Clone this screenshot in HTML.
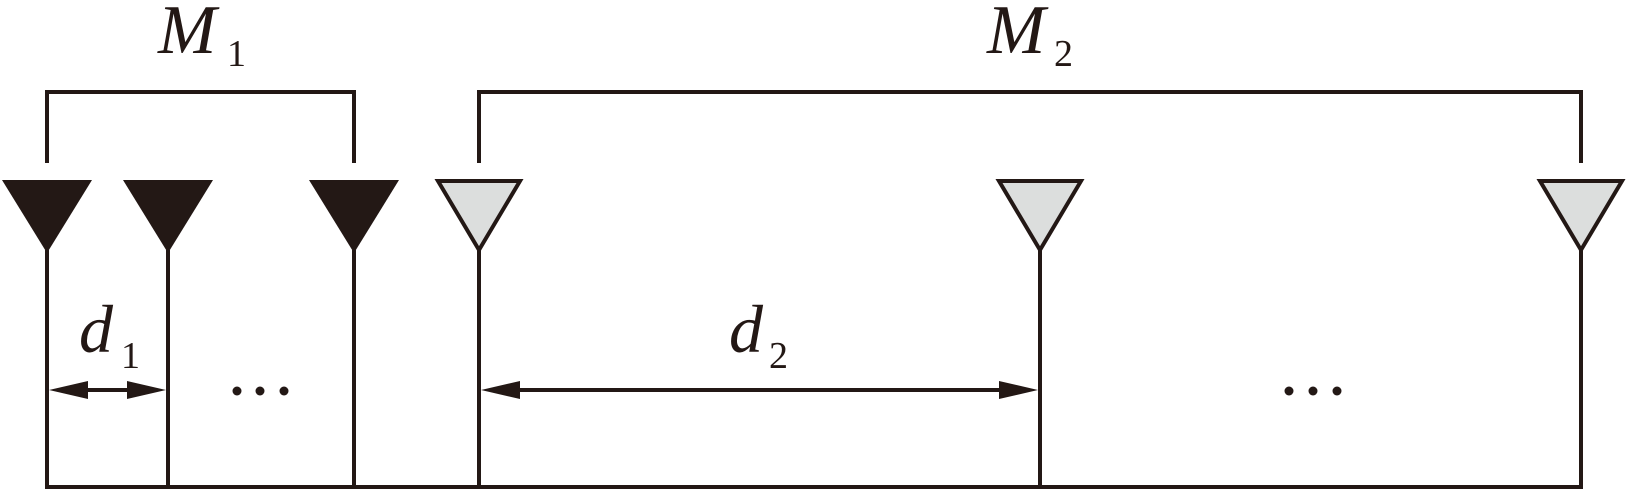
<!DOCTYPE html>
<html><head><style>html,body{margin:0;padding:0;background:#fff}svg{display:block}</style></head><body>
<svg width="1633" height="492" viewBox="0 0 1633 492" xmlns="http://www.w3.org/2000/svg">
<g stroke="#231815" stroke-width="4" fill="none">
<polyline points="47,163 47,92 354,92 354,163"/>
<polyline points="479,163 479,92 1581,92 1581,163"/>
<line x1="47" y1="250" x2="47" y2="488"/>
<line x1="168" y1="250" x2="168" y2="488"/>
<line x1="354" y1="250" x2="354" y2="488"/>
<line x1="479" y1="250" x2="479" y2="488"/>
<line x1="1040" y1="250" x2="1040" y2="488"/>
<line x1="1581" y1="250" x2="1581" y2="488"/>
<line x1="45" y1="487" x2="1583" y2="487"/>
<line x1="85" y1="390" x2="130" y2="390"/>
<line x1="517" y1="390" x2="1002" y2="390"/>
</g>
<g fill="#231815">
<polygon points="2,180 92,180 47,253"/>
<polygon points="123,180 213,180 168,253"/>
<polygon points="309,180 399,180 354,253"/>
<polygon points="49,390 88,381 88,399"/>
<polygon points="166,390 127,381 127,399"/>
<polygon points="481,390 520,381 520,399"/>
<polygon points="1038,390 999,381 999,399"/>
<circle cx="237" cy="391" r="4.5"/><circle cx="260" cy="391" r="4.5"/><circle cx="284" cy="391" r="4.5"/>
<circle cx="1289" cy="391" r="4.5"/><circle cx="1313" cy="391" r="4.5"/><circle cx="1337" cy="391" r="4.5"/>
</g>
<g fill="#dcdedd" stroke="#231815" stroke-width="4">
<polygon points="438,181 520,181 479,250"/>
<polygon points="999,181 1081,181 1040,250"/>
<polygon points="1540,181 1622,181 1581,250"/>
</g>
<g fill="#231815" font-family="Liberation Serif, serif">
<text x="158" y="53" font-size="70" font-style="italic">M</text>
<text x="227" y="66" font-size="38">1</text>
<text x="987" y="53" font-size="70" font-style="italic">M</text>
<text x="1054" y="66" font-size="38">2</text>
<text x="79" y="352" font-size="68" font-style="italic">d</text>
<text x="121" y="368" font-size="38">1</text>
<text x="729" y="352" font-size="68" font-style="italic">d</text>
<text x="769" y="368" font-size="38">2</text>
</g>
</svg>
</body></html>
